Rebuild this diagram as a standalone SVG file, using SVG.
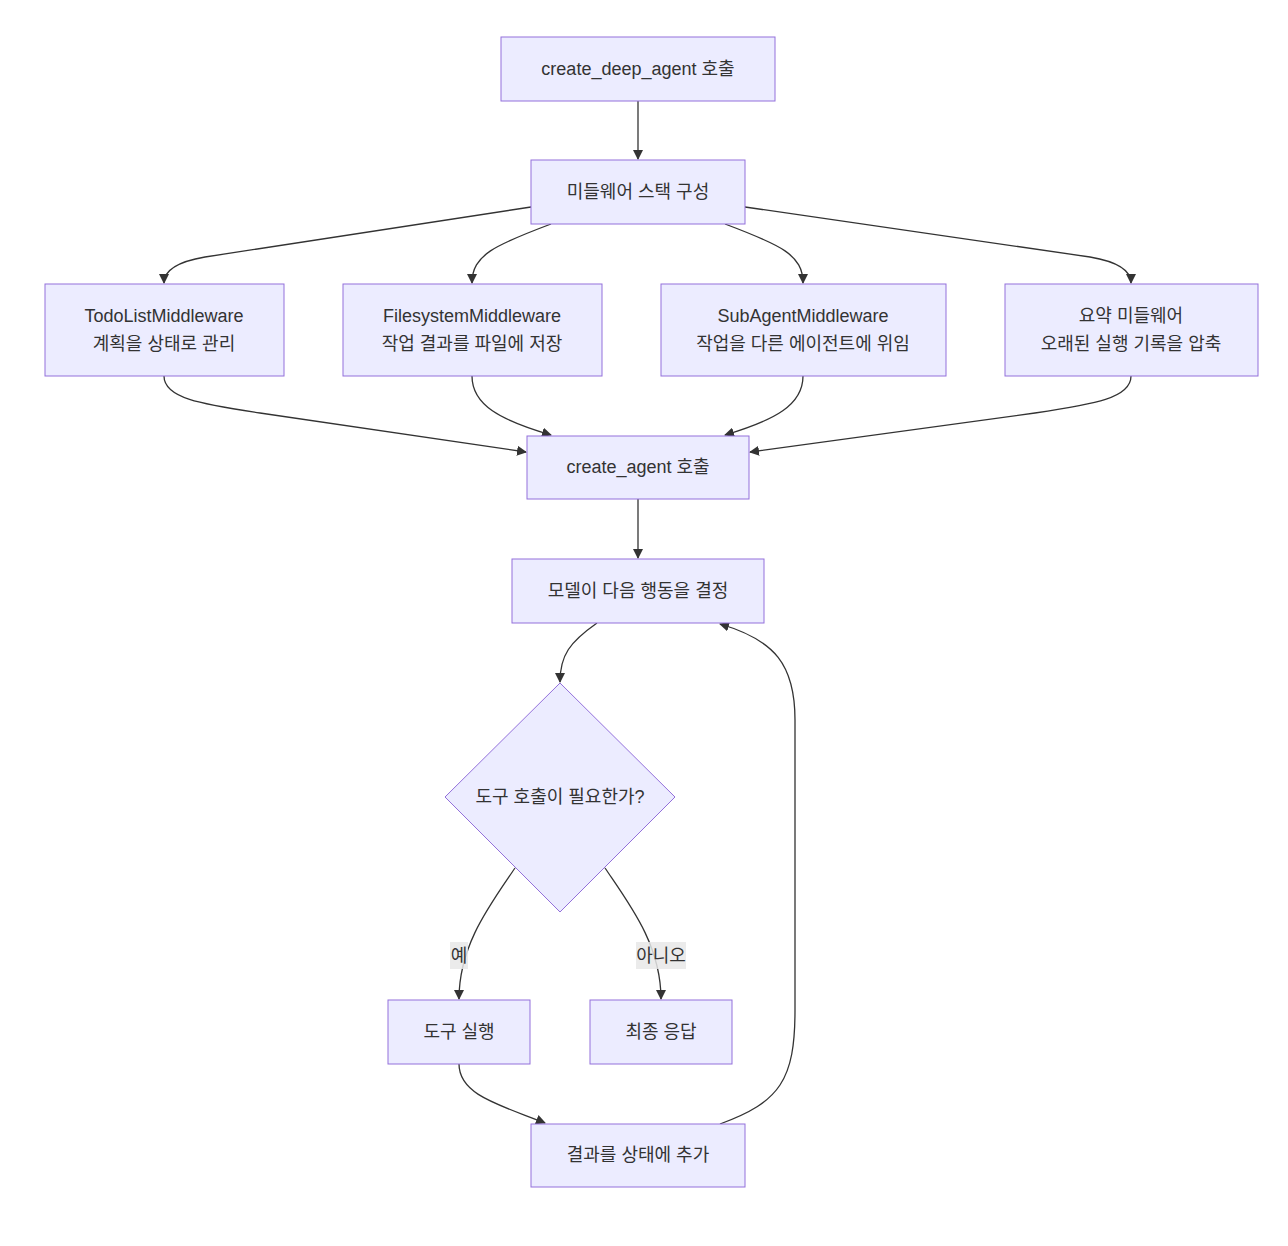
<svg xmlns="http://www.w3.org/2000/svg" width="1288" height="1246" viewBox="0 0 1288 1246">
<style>
.node rect, .node polygon { fill: #ECECFF; stroke: #9370DB; stroke-width: 1; }
.node text { font-family: "Liberation Sans", "Noto Sans CJK KR", sans-serif; font-size: 18px; fill: #333333; text-anchor: middle; dominant-baseline: central; }
.edges path { fill: none; stroke: #333333; stroke-width: 1.3; marker-end: url(#arrow); }
.lbl rect { fill: #E8E8E8; fill-opacity: 0.85; }
.lbl text { font-family: "Liberation Sans", "Noto Sans CJK KR", sans-serif; font-size: 18px; fill: #333333; text-anchor: middle; dominant-baseline: central; }
</style>
<defs>
<marker id="arrow" viewBox="0 0 10 10" refX="9" refY="5" markerWidth="10" markerHeight="10" markerUnits="userSpaceOnUse" orient="auto">
<path d="M0,0 L10,5 L0,10 z" fill="#333333"/>
</marker>
</defs>
<rect width="1288" height="1246" fill="#ffffff"/>
<g class="edges">
<path d="M638,101 L638,159"/>
<path d="M531,207 L205,257 Q164,264 164,283"/>
<path d="M551,224 C495,245 472,255 472,283"/>
<path d="M725,224 C781,245 803,255 803,283"/>
<path d="M745,207 L1090,257 Q1131,264 1131,283"/>
<path d="M164,376 C164,398 200,404 260,413 L526,452"/>
<path d="M472,376 C472,405 500,420 551,435"/>
<path d="M803,376 C803,405 775,420 725,435"/>
<path d="M1131,376 C1131,398 1095,404 1035,413 L750,452"/>
<path d="M638,499 L638,558"/>
<path d="M597,623 C570,642 560,655 560,682"/>
<path d="M515,868 C490,905 459,945 459,999"/>
<path d="M605,868 C630,905 661,945 661,999"/>
<path d="M459,1064 C459,1095 500,1105 545,1123"/>
<path d="M720,1124 C780,1102 795,1080 795,1010 L795,720 C795,665 775,640 720,624"/>
</g>
<g class="lbl">
<rect x="450" y="942" width="18" height="27"/>
<text x="459" y="956">예</text>
<rect x="636" y="942" width="50" height="27"/>
<text x="661" y="956">아니오</text>
</g>
<g class="node" id="n1"><rect x="501" y="37" width="274" height="64"/><text x="638" y="69">create_deep_agent 호출</text></g>
<g class="node" id="n2"><rect x="531" y="160" width="214" height="64"/><text x="638" y="192">미들웨어 스택 구성</text></g>
<g class="node" id="todo"><rect x="45" y="284" width="239" height="92"/><text x="164" y="316">TodoListMiddleware</text><text x="164" y="344">계획을 상태로 관리</text></g>
<g class="node" id="fs"><rect x="343" y="284" width="259" height="92"/><text x="472" y="316">FilesystemMiddleware</text><text x="472" y="344">작업 결과를 파일에 저장</text></g>
<g class="node" id="sub"><rect x="661" y="284" width="285" height="92"/><text x="803" y="316">SubAgentMiddleware</text><text x="803" y="344">작업을 다른 에이전트에 위임</text></g>
<g class="node" id="sum"><rect x="1005" y="284" width="253" height="92"/><text x="1131" y="316">요약 미들웨어</text><text x="1131" y="344">오래된 실행 기록을 압축</text></g>
<g class="node" id="n4"><rect x="527" y="436" width="222" height="63"/><text x="638" y="467">create_agent 호출</text></g>
<g class="node" id="n5"><rect x="512" y="559" width="252" height="64"/><text x="638" y="591">모델이 다음 행동을 결정</text></g>
<g class="node" id="dec"><polygon points="560,683 675,797 560,912 445,797"/><text x="560" y="797">도구 호출이 필요한가?</text></g>
<g class="node" id="tool"><rect x="388" y="1000" width="142" height="64"/><text x="459" y="1032">도구 실행</text></g>
<g class="node" id="final"><rect x="590" y="1000" width="142" height="64"/><text x="661" y="1032">최종 응답</text></g>
<g class="node" id="add"><rect x="531" y="1124" width="214" height="63"/><text x="638" y="1155">결과를 상태에 추가</text></g>
</svg>
